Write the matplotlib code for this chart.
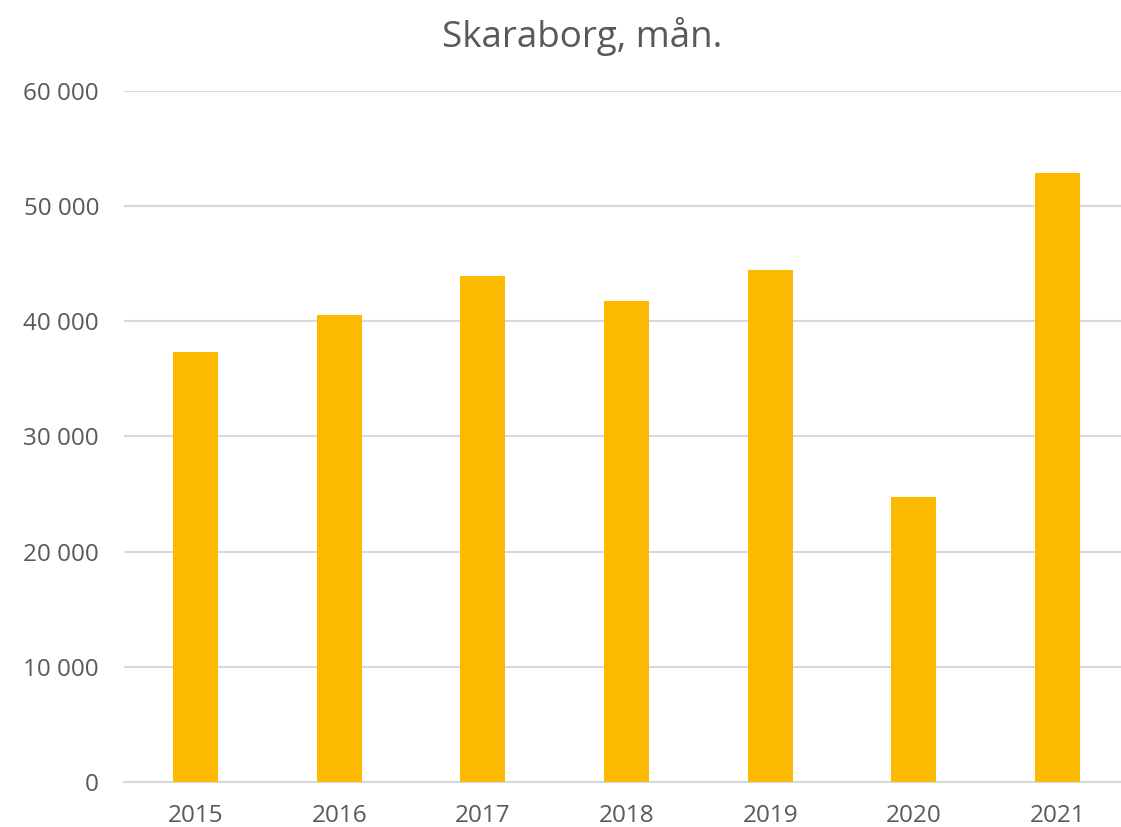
import matplotlib.pyplot as plt
from matplotlib.ticker import FuncFormatter

# data
years = ['2015', '2016', '2017', '2018', '2019', '2020', '2021']
values = [37350, 40540, 43920, 41730, 44440, 24740, 52860]

W, H = 1121, 827
text_col = '#595959'
plt.rcParams['font.family'] = ['Open Sans', 'DejaVu Sans']

fig = plt.figure(figsize=(W / 100, H / 100), dpi=100)
# plot area: left 124 px, right 1129 px (runs off the image), top 91, bottom 782
ax = fig.add_axes([124 / W, 1 - 782 / H, (1129 - 124) / W, (782 - 91) / H])

ax.bar(range(len(years)), values, width=0.313, color='#FBBA00', zorder=3)

ax.set_xlim(-0.5, len(years) - 0.5)
ax.set_ylim(0, 60000)
ax.set_yticks(range(0, 60001, 10000))
ax.yaxis.set_major_formatter(FuncFormatter(lambda v, p: f'{int(v):,}'.replace(',', ' ')))
ax.set_xticks(range(len(years)))
ax.set_xticklabels(years)

ax.grid(axis='y', color='#d9d9d9', linewidth=1.5, zorder=0)
for s in ['top', 'right', 'left']:
    ax.spines[s].set_visible(False)
ax.spines['bottom'].set_color('#d9d9d9')
ax.spines['bottom'].set_linewidth(1.5)
ax.tick_params(axis='both', length=0, labelsize=17.5, colors=text_col)
ax.tick_params(axis='y', pad=18)
ax.tick_params(axis='x', pad=16)

fig.text(582 / W, 1 - 37 / H, 'Skaraborg, mån.', ha='center', va='center',
         fontsize=26.5, color=text_col)

fig.savefig('out.png', dpi=100, facecolor='white')
